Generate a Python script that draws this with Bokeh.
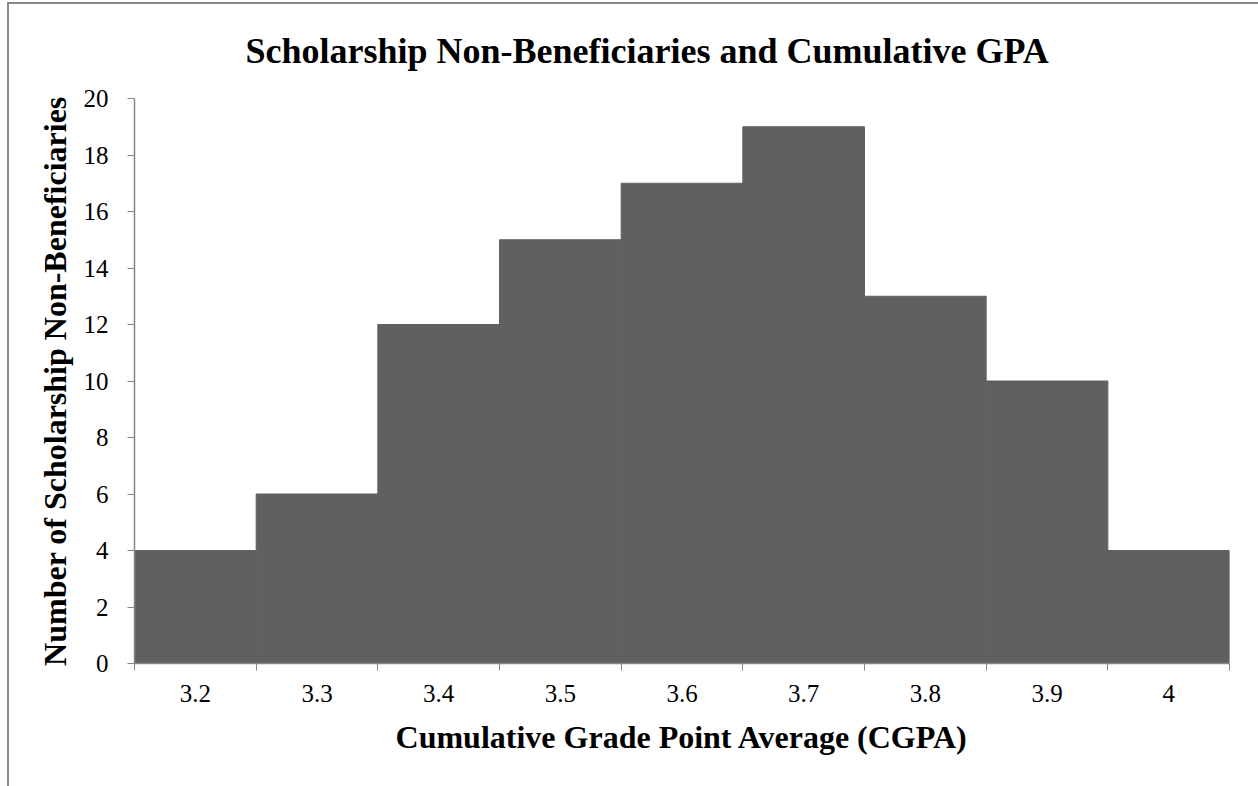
from bokeh.plotting import figure
from bokeh.models import FixedTicker, Range1d
from bokeh.embed import file_html
from bokeh.resources import INLINE

gpa = [3.2, 3.3, 3.4, 3.5, 3.6, 3.7, 3.8, 3.9, 4.0]
gpa_labels = ["3.2", "3.3", "3.4", "3.5", "3.6", "3.7", "3.8", "3.9", "4"]
counts = [4, 6, 12, 15, 17, 19, 13, 10, 4]
bin_edges = [3.15, 3.25, 3.35, 3.45, 3.55, 3.65, 3.75, 3.85, 3.95, 4.05]
y_ticks = [0, 2, 4, 6, 8, 10, 12, 14, 16, 18, 20]

FONT = "Liberation Serif"
AXIS_COL = "#868686"
BAR_COL = "#606060"
BORDER_COL = "#8a8a8a"

p = figure(width=1258, height=786, frame_width=1095, frame_height=565,
           output_backend="svg", toolbar_location=None,
           x_range=Range1d(bin_edges[0], bin_edges[-1]), y_range=Range1d(0, 20),
           min_border_left=134, min_border_right=29, min_border_top=98, min_border_bottom=123,
           title="Scholarship Non-Beneficiaries and Cumulative GPA")

# outer chart border (only the left and top edges are visible in the reference)
p.border_fill_alpha = 0
p.background_fill_color = "white"
p.styles = {
    "background-color": "white",
    "background-image": (f"linear-gradient({BORDER_COL},{BORDER_COL}), "
                         f"linear-gradient({BORDER_COL},{BORDER_COL})"),
    "background-position": "7px 2px, 7px 2px",
    "background-size": "2px 900px, 1400px 2px",
    "background-repeat": "no-repeat, no-repeat",
    "overflow": "hidden",
}

p.vbar(x=gpa, top=counts, width=0.1, fill_color=BAR_COL, line_color=BAR_COL, line_width=1)

p.title.align = "left"
p.title.offset = 111
p.title.text_font = FONT
p.title.text_font_size = "36px"
p.title.text_font_style = "bold"
p.title.text_color = "black"
p.title.standoff = 55

p.grid.visible = False
p.outline_line_color = None

xa = p.xaxis[0]
xa.ticker = FixedTicker(ticks=gpa, minor_ticks=bin_edges)
xa.major_label_overrides = {v: l for v, l in zip(gpa, gpa_labels)}
xa.major_tick_out = 0
xa.major_tick_in = 0
xa.minor_tick_out = 7
xa.minor_tick_in = 0
xa.minor_tick_line_color = AXIS_COL
xa.axis_line_color = AXIS_COL
xa.axis_line_width = 1.5
xa.major_label_text_font = FONT
xa.major_label_text_font_size = "25px"
xa.major_label_text_color = "black"
xa.major_label_standoff = 14
xa.axis_label = "Cumulative Grade Point Average (CGPA)"
xa.axis_label_text_font = FONT
xa.axis_label_text_font_size = "32px"
xa.axis_label_text_font_style = "bold"
xa.axis_label_text_color = "black"
xa.axis_label_standoff = 14

ya = p.yaxis[0]
ya.ticker = FixedTicker(ticks=y_ticks, minor_ticks=[])
ya.major_tick_out = 7
ya.major_tick_in = 0
ya.major_tick_line_color = AXIS_COL
ya.axis_line_color = AXIS_COL
ya.axis_line_width = 1.5
ya.major_label_text_font = FONT
ya.major_label_text_font_size = "25px"
ya.major_label_text_color = "black"
ya.major_label_standoff = 19
ya.axis_label = "Number of Scholarship Non-Beneficiaries"
ya.axis_label_text_font = FONT
ya.axis_label_text_font_size = "32px"
ya.axis_label_text_font_style = "bold"
ya.axis_label_text_color = "black"
ya.axis_label_standoff = 8

open("out.html", "w").write(file_html(p, INLINE))
